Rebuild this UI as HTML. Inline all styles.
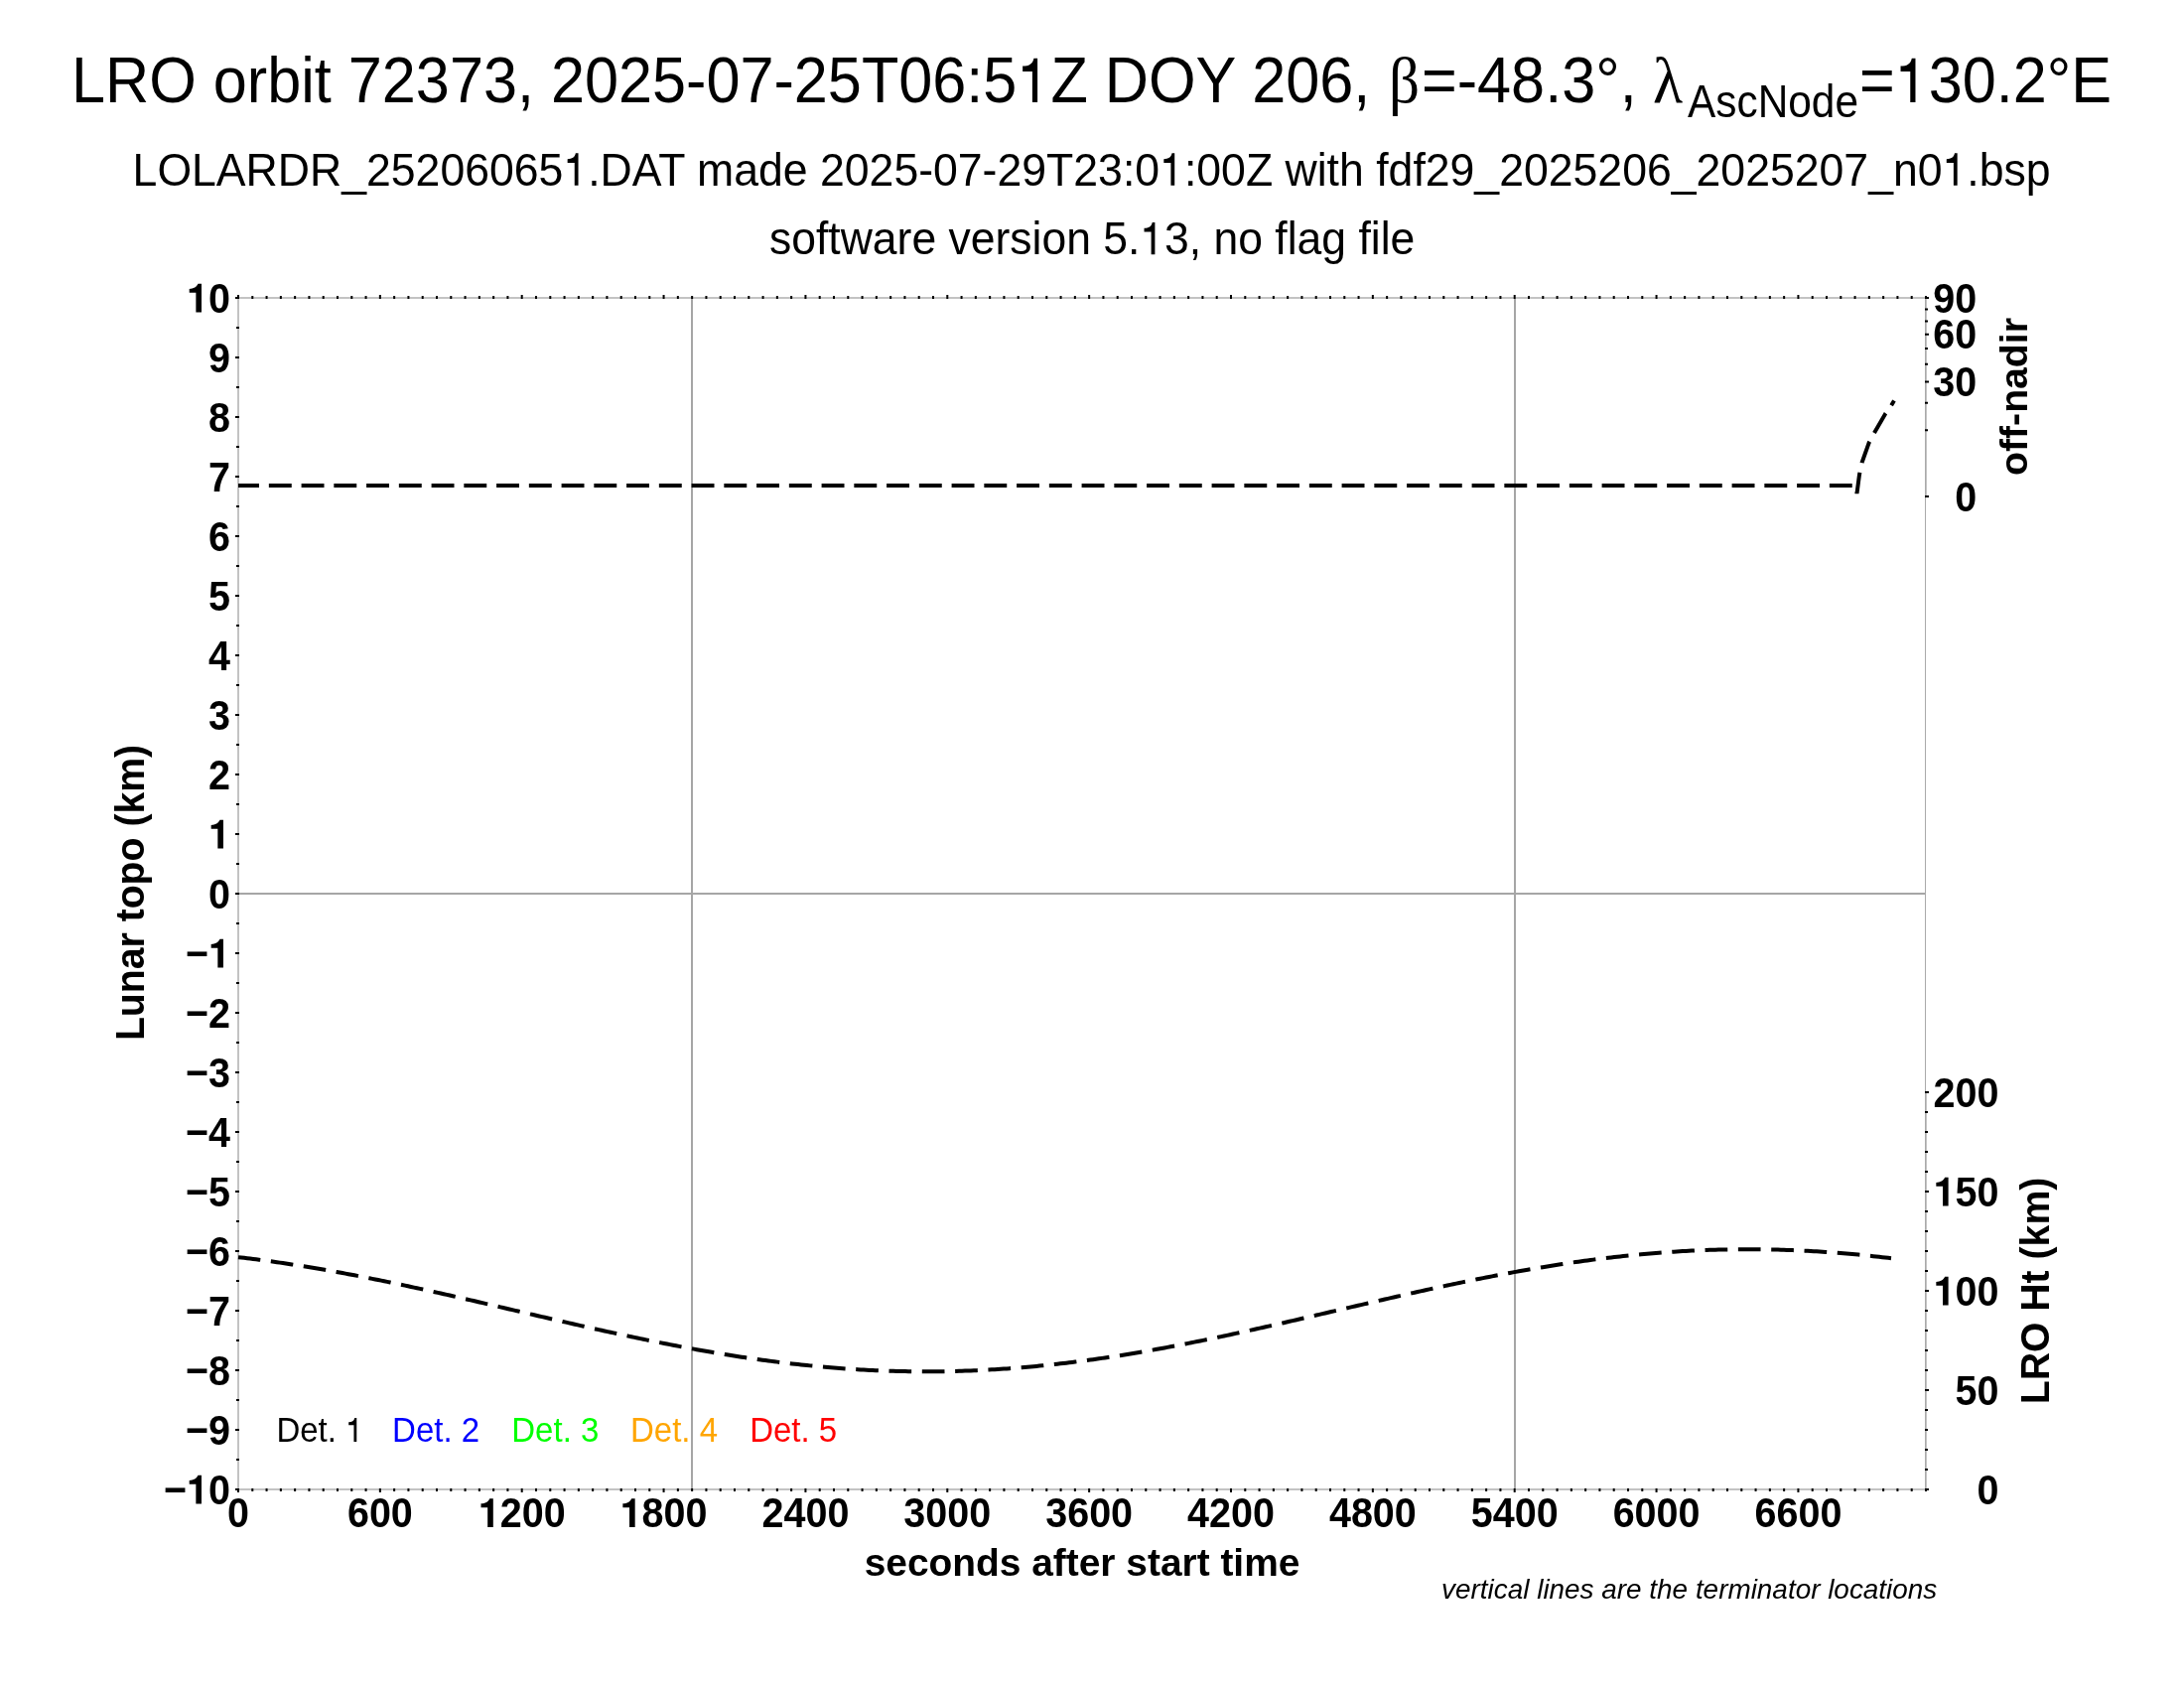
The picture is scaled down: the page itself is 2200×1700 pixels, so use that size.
<!DOCTYPE html><html><head><meta charset="utf-8"><style>html,body{margin:0;padding:0;background:#fff;}svg{display:block;will-change:transform}text{font-family:"Liberation Sans",sans-serif}</style></head><body>
<svg width="2200" height="1700" viewBox="0 0 2200 1700">
<rect x="0" y="0" width="2200" height="1700" fill="#fff"/>
<g transform="translate(0,103) scale(1,1.07) translate(0,-103)">
<text x="72" y="103" font-size="61.2" fill="#000">LRO orbit 72373, 2025-07-25T06:5 Z DOY 206,</text><path fill="#000" d="M1039.88,103.00H1045.09V61.53H1041.41C1040.19,66.97 1036.52,68.80 1030.15,68.97V73.94H1039.88Z"/>
<text x="1399" y="103" font-size="61" style="font-family:'Liberation Serif',serif">β</text>
<text x="1432" y="103" font-size="61.2" fill="#000">=-48.3°,</text>
<text x="1665" y="103" font-size="62" style="font-family:'Liberation Serif',serif">λ</text>
<text x="1700" y="116.83" font-size="42.4" fill="#000">AscNode</text>
<text x="1873" y="103" font-size="61.2" fill="#000">= 30.2°E</text><path fill="#000" d="M1924.27,103.00H1929.48V61.53H1925.80C1924.58,66.97 1920.91,68.80 1914.54,68.97V73.94H1924.27Z"/>
</g>
<g transform="translate(0,186.7) scale(1,1.05) translate(0,-186.7)"><text x="133.6" y="186.7" font-size="44.6" fill="#000">LOLARDR_25206065 .DAT made 2025-07-29T23:0 :00Z with fdf29_2025206_2025207_n0 .bsp</text><path fill="#000" d="M578.75,186.70H582.54V155.90H579.86C578.97,159.94 576.29,161.30 571.66,161.43V165.12H578.75ZM1179.42,186.70H1183.21V155.90H1180.54C1179.65,159.94 1176.97,161.30 1172.33,161.43V165.12H1179.42ZM1967.88,186.70H1971.67V155.90H1968.99C1968.10,159.94 1965.42,161.30 1960.79,161.43V165.12H1967.88Z"/></g>
<g transform="translate(0,256.2) scale(1,1.05) translate(0,-256.2)"><text x="775" y="256.2" font-size="44.5" fill="#000">software version 5. 3, no flag file</text><path fill="#000" d="M1159.62,256.20H1163.40V225.47H1160.73C1159.84,229.50 1157.17,230.86 1152.55,230.98V234.67H1159.62Z"/></g>
<g stroke="#a6a6a6" stroke-width="2" fill="none">
<line x1="241" y1="900" x2="1939" y2="900"/>
<line x1="697" y1="301" x2="697" y2="1499"/>
<line x1="1526" y1="301" x2="1526" y2="1499"/>
</g>
<path fill="none" stroke="#c3c3c3" stroke-width="2" d="M1939,300 H240 V1500 H1939"/>
<path fill="none" stroke="#c3c3c3" stroke-width="1" d="M1940.5,299 V500 M1940.5,1100 V1501"/>
<path fill="none" stroke="#aaaaaa" stroke-width="1" d="M1939.5,299 V1501"/>
<path fill="none" stroke="#000" stroke-width="2" d="M237,300h4 M238,330h3 M237,360h4 M238,390h3 M237,420h4 M238,450h3 M237,480h4 M238,510h3 M237,540h4 M238,570h3 M237,600h4 M238,630h3 M237,660h4 M238,690h3 M237,720h4 M238,750h3 M237,780h4 M238,810h3 M237,840h4 M238,870h3 M237,900h4 M238,930h3 M237,960h4 M238,990h3 M237,1020h4 M238,1050h3 M237,1080h4 M238,1110h3 M237,1140h4 M238,1170h3 M237,1200h4 M238,1230h3 M237,1260h4 M238,1290h3 M237,1320h4 M238,1350h3 M237,1380h4 M238,1410h3 M237,1440h4 M238,1470h3 M237,1500h4 M240.00,1499v4 M240.00,301v-4 M254.29,1499v3 M254.29,301v-3 M268.57,1499v3 M268.57,301v-3 M282.86,1499v3 M282.86,301v-3 M297.14,1499v3 M297.14,301v-3 M311.43,1499v3 M311.43,301v-3 M325.71,1499v3 M325.71,301v-3 M340.00,1499v3 M340.00,301v-3 M354.29,1499v3 M354.29,301v-3 M368.57,1499v3 M368.57,301v-3 M382.86,1499v4 M382.86,301v-4 M397.14,1499v3 M397.14,301v-3 M411.43,1499v3 M411.43,301v-3 M425.71,1499v3 M425.71,301v-3 M440.00,1499v3 M440.00,301v-3 M454.29,1499v3 M454.29,301v-3 M468.57,1499v3 M468.57,301v-3 M482.86,1499v3 M482.86,301v-3 M497.14,1499v3 M497.14,301v-3 M511.43,1499v3 M511.43,301v-3 M525.71,1499v4 M525.71,301v-4 M540.00,1499v3 M540.00,301v-3 M554.29,1499v3 M554.29,301v-3 M568.57,1499v3 M568.57,301v-3 M582.86,1499v3 M582.86,301v-3 M597.14,1499v3 M597.14,301v-3 M611.43,1499v3 M611.43,301v-3 M625.71,1499v3 M625.71,301v-3 M640.00,1499v3 M640.00,301v-3 M654.29,1499v3 M654.29,301v-3 M668.57,1499v4 M668.57,301v-4 M682.86,1499v3 M682.86,301v-3 M697.14,1499v3 M697.14,301v-3 M711.43,1499v3 M711.43,301v-3 M725.71,1499v3 M725.71,301v-3 M740.00,1499v3 M740.00,301v-3 M754.29,1499v3 M754.29,301v-3 M768.57,1499v3 M768.57,301v-3 M782.86,1499v3 M782.86,301v-3 M797.14,1499v3 M797.14,301v-3 M811.43,1499v4 M811.43,301v-4 M825.71,1499v3 M825.71,301v-3 M840.00,1499v3 M840.00,301v-3 M854.29,1499v3 M854.29,301v-3 M868.57,1499v3 M868.57,301v-3 M882.86,1499v3 M882.86,301v-3 M897.14,1499v3 M897.14,301v-3 M911.43,1499v3 M911.43,301v-3 M925.71,1499v3 M925.71,301v-3 M940.00,1499v3 M940.00,301v-3 M954.29,1499v4 M954.29,301v-4 M968.57,1499v3 M968.57,301v-3 M982.86,1499v3 M982.86,301v-3 M997.14,1499v3 M997.14,301v-3 M1011.43,1499v3 M1011.43,301v-3 M1025.71,1499v3 M1025.71,301v-3 M1040.00,1499v3 M1040.00,301v-3 M1054.29,1499v3 M1054.29,301v-3 M1068.57,1499v3 M1068.57,301v-3 M1082.86,1499v3 M1082.86,301v-3 M1097.14,1499v4 M1097.14,301v-4 M1111.43,1499v3 M1111.43,301v-3 M1125.71,1499v3 M1125.71,301v-3 M1140.00,1499v3 M1140.00,301v-3 M1154.29,1499v3 M1154.29,301v-3 M1168.57,1499v3 M1168.57,301v-3 M1182.86,1499v3 M1182.86,301v-3 M1197.14,1499v3 M1197.14,301v-3 M1211.43,1499v3 M1211.43,301v-3 M1225.71,1499v3 M1225.71,301v-3 M1240.00,1499v4 M1240.00,301v-4 M1254.29,1499v3 M1254.29,301v-3 M1268.57,1499v3 M1268.57,301v-3 M1282.86,1499v3 M1282.86,301v-3 M1297.14,1499v3 M1297.14,301v-3 M1311.43,1499v3 M1311.43,301v-3 M1325.71,1499v3 M1325.71,301v-3 M1340.00,1499v3 M1340.00,301v-3 M1354.29,1499v3 M1354.29,301v-3 M1368.57,1499v3 M1368.57,301v-3 M1382.86,1499v4 M1382.86,301v-4 M1397.14,1499v3 M1397.14,301v-3 M1411.43,1499v3 M1411.43,301v-3 M1425.71,1499v3 M1425.71,301v-3 M1440.00,1499v3 M1440.00,301v-3 M1454.29,1499v3 M1454.29,301v-3 M1468.57,1499v3 M1468.57,301v-3 M1482.86,1499v3 M1482.86,301v-3 M1497.14,1499v3 M1497.14,301v-3 M1511.43,1499v3 M1511.43,301v-3 M1525.71,1499v4 M1525.71,301v-4 M1540.00,1499v3 M1540.00,301v-3 M1554.29,1499v3 M1554.29,301v-3 M1568.57,1499v3 M1568.57,301v-3 M1582.86,1499v3 M1582.86,301v-3 M1597.14,1499v3 M1597.14,301v-3 M1611.43,1499v3 M1611.43,301v-3 M1625.71,1499v3 M1625.71,301v-3 M1640.00,1499v3 M1640.00,301v-3 M1654.29,1499v3 M1654.29,301v-3 M1668.57,1499v4 M1668.57,301v-4 M1682.86,1499v3 M1682.86,301v-3 M1697.14,1499v3 M1697.14,301v-3 M1711.43,1499v3 M1711.43,301v-3 M1725.71,1499v3 M1725.71,301v-3 M1740.00,1499v3 M1740.00,301v-3 M1754.29,1499v3 M1754.29,301v-3 M1768.57,1499v3 M1768.57,301v-3 M1782.86,1499v3 M1782.86,301v-3 M1797.14,1499v3 M1797.14,301v-3 M1811.43,1499v4 M1811.43,301v-4 M1825.71,1499v3 M1825.71,301v-3 M1840.00,1499v3 M1840.00,301v-3 M1854.29,1499v3 M1854.29,301v-3 M1868.57,1499v3 M1868.57,301v-3 M1882.86,1499v3 M1882.86,301v-3 M1897.14,1499v3 M1897.14,301v-3 M1911.43,1499v3 M1911.43,301v-3 M1925.71,1499v3 M1925.71,301v-3 M1940.00,1499v3 M1940.00,301v-3 M1939,500.00h4 M1939,433.33h3 M1939,405.72h3 M1939,384.53h4 M1939,366.67h3 M1939,350.93h3 M1939,336.70h4 M1939,323.62h3 M1939,311.44h3 M1939,300.00h4 M1939,1500h4 M1939,1480h3 M1939,1460h3 M1939,1440h3 M1939,1420h3 M1939,1400h4 M1939,1380h3 M1939,1360h3 M1939,1340h3 M1939,1320h3 M1939,1300h4 M1939,1280h3 M1939,1260h3 M1939,1240h3 M1939,1220h3 M1939,1200h4 M1939,1180h3 M1939,1160h3 M1939,1140h3 M1939,1120h3 M1939,1100h4"/>
<g transform="translate(231.90,314.60) scale(1,1.07)"><text x="0" y="0" text-anchor="end" font-size="39.5" font-weight="bold" fill="#000"> 0</text><path fill="#000" d="M-34.52,0.00H-28.91V-26.87H-32.39C-33.57,-24.11 -37.01,-22.19 -41.20,-22.08V-18.57H-34.52Z"/></g>
<g transform="translate(231.90,374.60) scale(1,1.07)"><text x="0" y="0" text-anchor="end" font-size="39.5" font-weight="bold" fill="#000">9</text></g>
<g transform="translate(231.90,434.60) scale(1,1.07)"><text x="0" y="0" text-anchor="end" font-size="39.5" font-weight="bold" fill="#000">8</text></g>
<g transform="translate(231.90,494.60) scale(1,1.07)"><text x="0" y="0" text-anchor="end" font-size="39.5" font-weight="bold" fill="#000">7</text></g>
<g transform="translate(231.90,554.60) scale(1,1.07)"><text x="0" y="0" text-anchor="end" font-size="39.5" font-weight="bold" fill="#000">6</text></g>
<g transform="translate(231.90,614.60) scale(1,1.07)"><text x="0" y="0" text-anchor="end" font-size="39.5" font-weight="bold" fill="#000">5</text></g>
<g transform="translate(231.90,674.60) scale(1,1.07)"><text x="0" y="0" text-anchor="end" font-size="39.5" font-weight="bold" fill="#000">4</text></g>
<g transform="translate(231.90,734.60) scale(1,1.07)"><text x="0" y="0" text-anchor="end" font-size="39.5" font-weight="bold" fill="#000">3</text></g>
<g transform="translate(231.90,794.60) scale(1,1.07)"><text x="0" y="0" text-anchor="end" font-size="39.5" font-weight="bold" fill="#000">2</text></g>
<g transform="translate(231.90,854.60) scale(1,1.07)"><text x="0" y="0" text-anchor="end" font-size="39.5" font-weight="bold" fill="#000"> </text><path fill="#000" d="M-12.57,0.00H-6.96V-26.87H-10.43C-11.62,-24.11 -15.06,-22.19 -19.24,-22.08V-18.57H-12.57Z"/></g>
<g transform="translate(231.90,914.60) scale(1,1.07)"><text x="0" y="0" text-anchor="end" font-size="39.5" font-weight="bold" fill="#000">0</text></g>
<g transform="translate(231.90,974.60) scale(1,1.07)"><text x="0" y="0" text-anchor="end" font-size="39.5" font-weight="bold" fill="#000">− </text><path fill="#000" d="M-12.57,0.00H-6.96V-26.87H-10.43C-11.62,-24.11 -15.06,-22.19 -19.24,-22.08V-18.57H-12.57Z"/></g>
<g transform="translate(231.90,1034.60) scale(1,1.07)"><text x="0" y="0" text-anchor="end" font-size="39.5" font-weight="bold" fill="#000">−2</text></g>
<g transform="translate(231.90,1094.60) scale(1,1.07)"><text x="0" y="0" text-anchor="end" font-size="39.5" font-weight="bold" fill="#000">−3</text></g>
<g transform="translate(231.90,1154.60) scale(1,1.07)"><text x="0" y="0" text-anchor="end" font-size="39.5" font-weight="bold" fill="#000">−4</text></g>
<g transform="translate(231.90,1214.60) scale(1,1.07)"><text x="0" y="0" text-anchor="end" font-size="39.5" font-weight="bold" fill="#000">−5</text></g>
<g transform="translate(231.90,1274.60) scale(1,1.07)"><text x="0" y="0" text-anchor="end" font-size="39.5" font-weight="bold" fill="#000">−6</text></g>
<g transform="translate(231.90,1334.60) scale(1,1.07)"><text x="0" y="0" text-anchor="end" font-size="39.5" font-weight="bold" fill="#000">−7</text></g>
<g transform="translate(231.90,1394.60) scale(1,1.07)"><text x="0" y="0" text-anchor="end" font-size="39.5" font-weight="bold" fill="#000">−8</text></g>
<g transform="translate(231.90,1454.60) scale(1,1.07)"><text x="0" y="0" text-anchor="end" font-size="39.5" font-weight="bold" fill="#000">−9</text></g>
<g transform="translate(231.90,1514.60) scale(1,1.07)"><text x="0" y="0" text-anchor="end" font-size="39.5" font-weight="bold" fill="#000">− 0</text><path fill="#000" d="M-34.54,0.00H-28.93V-26.87H-32.40C-33.59,-24.11 -37.02,-22.19 -41.21,-22.08V-18.57H-34.54Z"/></g>
<g transform="translate(240.00,1538.00) scale(1,1.07)"><text x="0" y="0" text-anchor="middle" font-size="39.5" font-weight="bold" fill="#000">0</text></g>
<g transform="translate(382.86,1538.00) scale(1,1.07)"><text x="0" y="0" text-anchor="middle" font-size="39.5" font-weight="bold" fill="#000">600</text></g>
<g transform="translate(525.71,1538.00) scale(1,1.07)"><text x="0" y="0" text-anchor="middle" font-size="39.5" font-weight="bold" fill="#000"> 200</text><path fill="#000" d="M-34.52,0.00H-28.91V-26.87H-32.39C-33.57,-24.11 -37.01,-22.19 -41.20,-22.08V-18.57H-34.52Z"/></g>
<g transform="translate(668.57,1538.00) scale(1,1.07)"><text x="0" y="0" text-anchor="middle" font-size="39.5" font-weight="bold" fill="#000"> 800</text><path fill="#000" d="M-34.52,0.00H-28.91V-26.87H-32.39C-33.57,-24.11 -37.01,-22.19 -41.20,-22.08V-18.57H-34.52Z"/></g>
<g transform="translate(811.43,1538.00) scale(1,1.07)"><text x="0" y="0" text-anchor="middle" font-size="39.5" font-weight="bold" fill="#000">2400</text></g>
<g transform="translate(954.29,1538.00) scale(1,1.07)"><text x="0" y="0" text-anchor="middle" font-size="39.5" font-weight="bold" fill="#000">3000</text></g>
<g transform="translate(1097.14,1538.00) scale(1,1.07)"><text x="0" y="0" text-anchor="middle" font-size="39.5" font-weight="bold" fill="#000">3600</text></g>
<g transform="translate(1240.00,1538.00) scale(1,1.07)"><text x="0" y="0" text-anchor="middle" font-size="39.5" font-weight="bold" fill="#000">4200</text></g>
<g transform="translate(1382.86,1538.00) scale(1,1.07)"><text x="0" y="0" text-anchor="middle" font-size="39.5" font-weight="bold" fill="#000">4800</text></g>
<g transform="translate(1525.71,1538.00) scale(1,1.07)"><text x="0" y="0" text-anchor="middle" font-size="39.5" font-weight="bold" fill="#000">5400</text></g>
<g transform="translate(1668.57,1538.00) scale(1,1.07)"><text x="0" y="0" text-anchor="middle" font-size="39.5" font-weight="bold" fill="#000">6000</text></g>
<g transform="translate(1811.43,1538.00) scale(1,1.07)"><text x="0" y="0" text-anchor="middle" font-size="39.5" font-weight="bold" fill="#000">6600</text></g>
<g transform="translate(1991.10,314.60) scale(1,1.07)"><text x="0" y="0" text-anchor="end" font-size="39.5" font-weight="bold" fill="#000">90</text></g>
<g transform="translate(1991.10,351.30) scale(1,1.07)"><text x="0" y="0" text-anchor="end" font-size="39.5" font-weight="bold" fill="#000">60</text></g>
<g transform="translate(1991.10,399.13) scale(1,1.07)"><text x="0" y="0" text-anchor="end" font-size="39.5" font-weight="bold" fill="#000">30</text></g>
<g transform="translate(1991.10,514.60) scale(1,1.07)"><text x="0" y="0" text-anchor="end" font-size="39.5" font-weight="bold" fill="#000">0</text></g>
<g transform="translate(2013.50,1114.60) scale(1,1.07)"><text x="0" y="0" text-anchor="end" font-size="39.5" font-weight="bold" fill="#000">200</text></g>
<g transform="translate(2013.50,1214.60) scale(1,1.07)"><text x="0" y="0" text-anchor="end" font-size="39.5" font-weight="bold" fill="#000"> 50</text><path fill="#000" d="M-56.49,0.00H-50.88V-26.87H-54.36C-55.54,-24.11 -58.98,-22.19 -63.16,-22.08V-18.57H-56.49Z"/></g>
<g transform="translate(2013.50,1314.60) scale(1,1.07)"><text x="0" y="0" text-anchor="end" font-size="39.5" font-weight="bold" fill="#000"> 00</text><path fill="#000" d="M-56.49,0.00H-50.88V-26.87H-54.36C-55.54,-24.11 -58.98,-22.19 -63.16,-22.08V-18.57H-56.49Z"/></g>
<g transform="translate(2013.50,1414.60) scale(1,1.07)"><text x="0" y="0" text-anchor="end" font-size="39.5" font-weight="bold" fill="#000">50</text></g>
<g transform="translate(2013.50,1514.60) scale(1,1.07)"><text x="0" y="0" text-anchor="end" font-size="39.5" font-weight="bold" fill="#000">0</text></g>
<g fill="#000" font-weight="bold">
<text transform="translate(1090,1586.8)" font-size="38.9" text-anchor="middle">seconds after start time</text>
<text transform="translate(144.5,899) rotate(-90) scale(1,1.03)" font-size="39.2" text-anchor="middle">Lunar topo (km)</text>
<text transform="translate(2042.4,399.5) rotate(-90)" font-size="39.2" text-anchor="middle">off-nadir</text>
<text transform="translate(2064.4,1300) rotate(-90) scale(1,1.03)" font-size="39.2" text-anchor="middle">LRO Ht (km)</text>
</g>
<text x="1452.1" y="1610.2" font-size="27.9" font-style="italic" fill="#000">vertical lines are the terminator locations</text>
<g transform="translate(0,1452) scale(1,1.05) translate(0,-1452)"><text x="278.4" y="1452" font-size="33" fill="#000000">Det.  </text><path fill="#000000" d="M356.46,1452.00H359.26V1429.21H357.28C356.62,1432.20 354.64,1433.21 351.21,1433.30V1436.03H356.46Z"/></g>
<g transform="translate(0,1452) scale(1,1.05) translate(0,-1452)"><text x="395.1" y="1452" font-size="33" fill="#0000ff">Det. 2</text></g>
<g transform="translate(0,1452) scale(1,1.05) translate(0,-1452)"><text x="515.3" y="1452" font-size="33" fill="#00ff00">Det. 3</text></g>
<g transform="translate(0,1452) scale(1,1.05) translate(0,-1452)"><text x="635.0" y="1452" font-size="33" fill="#ffa500">Det. 4</text></g>
<g transform="translate(0,1452) scale(1,1.05) translate(0,-1452)"><text x="755.2" y="1452" font-size="33" fill="#ff0000">Det. 5</text></g>
<path fill="none" stroke="#000" stroke-width="4" stroke-dasharray="22.7 10.63" stroke-dashoffset="0.26" d="M240.0,1266.14 L243.0,1266.49 L246.0,1266.84 L249.0,1267.20 L252.0,1267.57 L255.0,1267.95 L258.0,1268.33 L261.0,1268.72 L264.0,1269.11 L267.0,1269.51 L270.0,1269.92 L273.0,1270.33 L276.0,1270.76 L279.0,1271.18 L282.0,1271.62 L285.0,1272.06 L288.0,1272.50 L291.0,1272.95 L294.0,1273.41 L297.0,1273.88 L300.0,1274.35 L303.0,1274.82 L306.0,1275.30 L309.0,1275.79 L312.0,1276.28 L315.0,1276.78 L318.0,1277.29 L321.0,1277.80 L324.0,1278.31 L327.0,1278.83 L330.0,1279.36 L333.0,1279.89 L336.0,1280.43 L339.0,1280.97 L342.0,1281.51 L345.0,1282.07 L348.0,1282.62 L351.0,1283.18 L354.0,1283.75 L357.0,1284.32 L360.0,1284.90 L363.0,1285.48 L366.0,1286.06 L369.0,1286.65 L372.0,1287.24 L375.0,1287.84 L378.0,1288.44 L381.0,1289.04 L384.0,1289.65 L387.0,1290.27 L390.0,1290.88 L393.0,1291.50 L396.0,1292.13 L399.0,1292.76 L402.0,1293.39 L405.0,1294.02 L408.0,1294.66 L411.0,1295.30 L414.0,1295.95 L417.0,1296.59 L420.0,1297.24 L423.0,1297.90 L426.0,1298.55 L429.0,1299.21 L432.0,1299.87 L435.0,1300.54 L438.0,1301.21 L441.0,1301.87 L444.0,1302.55 L447.0,1303.22 L450.0,1303.90 L453.0,1304.57 L456.0,1305.25 L459.0,1305.94 L462.0,1306.62 L465.0,1307.30 L468.0,1307.99 L471.0,1308.68 L474.0,1309.37 L477.0,1310.06 L480.0,1310.75 L483.0,1311.45 L486.0,1312.14 L489.0,1312.84 L492.0,1313.53 L495.0,1314.23 L498.0,1314.93 L501.0,1315.63 L504.0,1316.33 L507.0,1317.03 L510.0,1317.73 L513.0,1318.43 L516.0,1319.13 L519.0,1319.83 L522.0,1320.53 L525.0,1321.23 L528.0,1321.93 L531.0,1322.63 L534.0,1323.33 L537.0,1324.03 L540.0,1324.73 L543.0,1325.43 L546.0,1326.12 L549.0,1326.82 L552.0,1327.51 L555.0,1328.21 L558.0,1328.90 L561.0,1329.59 L564.0,1330.29 L567.0,1330.98 L570.0,1331.66 L573.0,1332.35 L576.0,1333.03 L579.0,1333.72 L582.0,1334.40 L585.0,1335.08 L588.0,1335.76 L591.0,1336.43 L594.0,1337.11 L597.0,1337.78 L600.0,1338.44 L603.0,1339.11 L606.0,1339.77 L609.0,1340.44 L612.0,1341.09 L615.0,1341.75 L618.0,1342.40 L621.0,1343.05 L624.0,1343.70 L627.0,1344.34 L630.0,1344.98 L633.0,1345.62 L636.0,1346.26 L639.0,1346.89 L642.0,1347.51 L645.0,1348.14 L648.0,1348.76 L651.0,1349.37 L654.0,1349.98 L657.0,1350.59 L660.0,1351.20 L663.0,1351.80 L666.0,1352.39 L669.0,1352.99 L672.0,1353.57 L675.0,1354.16 L678.0,1354.73 L681.0,1355.31 L684.0,1355.88 L687.0,1356.44 L690.0,1357.00 L693.0,1357.56 L696.0,1358.11 L699.0,1358.65 L702.0,1359.19 L705.0,1359.73 L708.0,1360.26 L711.0,1360.78 L714.0,1361.30 L717.0,1361.82 L720.0,1362.33 L723.0,1362.83 L726.0,1363.33 L729.0,1363.82 L732.0,1364.31 L735.0,1364.79 L738.0,1365.26 L741.0,1365.73 L744.0,1366.19 L747.0,1366.65 L750.0,1367.10 L753.0,1367.54 L756.0,1367.98 L759.0,1368.41 L762.0,1368.84 L765.0,1369.26 L768.0,1369.67 L771.0,1370.08 L774.0,1370.48 L777.0,1370.87 L780.0,1371.26 L783.0,1371.64 L786.0,1372.01 L789.0,1372.38 L792.0,1372.74 L795.0,1373.09 L798.0,1373.44 L801.0,1373.78 L804.0,1374.11 L807.0,1374.44 L810.0,1374.75 L813.0,1375.06 L816.0,1375.37 L819.0,1375.66 L822.0,1375.95 L825.0,1376.24 L828.0,1376.51 L831.0,1376.78 L834.0,1377.04 L837.0,1377.29 L840.0,1377.53 L843.0,1377.77 L846.0,1378.00 L849.0,1378.22 L852.0,1378.44 L855.0,1378.65 L858.0,1378.85 L861.0,1379.04 L864.0,1379.22 L867.0,1379.40 L870.0,1379.57 L873.0,1379.73 L876.0,1379.88 L879.0,1380.03 L882.0,1380.17 L885.0,1380.30 L888.0,1380.42 L891.0,1380.53 L894.0,1380.64 L897.0,1380.74 L900.0,1380.83 L903.0,1380.91 L906.0,1380.98 L909.0,1381.05 L912.0,1381.11 L915.0,1381.16 L918.0,1381.20 L921.0,1381.24 L924.0,1381.27 L927.0,1381.29 L930.0,1381.30 L933.0,1381.30 L936.0,1381.29 L939.0,1381.28 L942.0,1381.26 L945.0,1381.23 L948.0,1381.20 L951.0,1381.15 L954.0,1381.10 L957.0,1381.04 L960.0,1380.97 L963.0,1380.89 L966.0,1380.81 L969.0,1380.72 L972.0,1380.62 L975.0,1380.51 L978.0,1380.39 L981.0,1380.27 L984.0,1380.14 L987.0,1380.00 L990.0,1379.85 L993.0,1379.69 L996.0,1379.53 L999.0,1379.36 L1002.0,1379.18 L1005.0,1379.00 L1008.0,1378.80 L1011.0,1378.60 L1014.0,1378.39 L1017.0,1378.18 L1020.0,1377.95 L1023.0,1377.72 L1026.0,1377.48 L1029.0,1377.23 L1032.0,1376.98 L1035.0,1376.72 L1038.0,1376.45 L1041.0,1376.17 L1044.0,1375.89 L1047.0,1375.60 L1050.0,1375.30 L1053.0,1374.99 L1056.0,1374.68 L1059.0,1374.36 L1062.0,1374.04 L1065.0,1373.70 L1068.0,1373.36 L1071.0,1373.01 L1074.0,1372.66 L1077.0,1372.30 L1080.0,1371.93 L1083.0,1371.56 L1086.0,1371.17 L1089.0,1370.79 L1092.0,1370.39 L1095.0,1369.99 L1098.0,1369.58 L1101.0,1369.17 L1104.0,1368.75 L1107.0,1368.32 L1110.0,1367.88 L1113.0,1367.45 L1116.0,1367.00 L1119.0,1366.55 L1122.0,1366.09 L1125.0,1365.63 L1128.0,1365.16 L1131.0,1364.68 L1134.0,1364.20 L1137.0,1363.71 L1140.0,1363.22 L1143.0,1362.72 L1146.0,1362.21 L1149.0,1361.70 L1152.0,1361.19 L1155.0,1360.67 L1158.0,1360.14 L1161.0,1359.61 L1164.0,1359.07 L1167.0,1358.53 L1170.0,1357.99 L1173.0,1357.43 L1176.0,1356.88 L1179.0,1356.32 L1182.0,1355.75 L1185.0,1355.18 L1188.0,1354.61 L1191.0,1354.03 L1194.0,1353.44 L1197.0,1352.85 L1200.0,1352.26 L1203.0,1351.66 L1206.0,1351.06 L1209.0,1350.46 L1212.0,1349.85 L1215.0,1349.23 L1218.0,1348.62 L1221.0,1348.00 L1224.0,1347.37 L1227.0,1346.75 L1230.0,1346.11 L1233.0,1345.48 L1236.0,1344.84 L1239.0,1344.20 L1242.0,1343.56 L1245.0,1342.91 L1248.0,1342.26 L1251.0,1341.60 L1254.0,1340.95 L1257.0,1340.29 L1260.0,1339.63 L1263.0,1338.96 L1266.0,1338.30 L1269.0,1337.63 L1272.0,1336.95 L1275.0,1336.28 L1278.0,1335.60 L1281.0,1334.93 L1284.0,1334.25 L1287.0,1333.56 L1290.0,1332.88 L1293.0,1332.20 L1296.0,1331.51 L1299.0,1330.82 L1302.0,1330.13 L1305.0,1329.44 L1308.0,1328.75 L1311.0,1328.05 L1314.0,1327.36 L1317.0,1326.66 L1320.0,1325.97 L1323.0,1325.27 L1326.0,1324.57 L1329.0,1323.87 L1332.0,1323.17 L1335.0,1322.47 L1338.0,1321.77 L1341.0,1321.07 L1344.0,1320.37 L1347.0,1319.67 L1350.0,1318.97 L1353.0,1318.27 L1356.0,1317.57 L1359.0,1316.87 L1362.0,1316.17 L1365.0,1315.47 L1368.0,1314.77 L1371.0,1314.08 L1374.0,1313.38 L1377.0,1312.68 L1380.0,1311.99 L1383.0,1311.29 L1386.0,1310.60 L1389.0,1309.91 L1392.0,1309.22 L1395.0,1308.53 L1398.0,1307.84 L1401.0,1307.15 L1404.0,1306.47 L1407.0,1305.78 L1410.0,1305.10 L1413.0,1304.42 L1416.0,1303.74 L1419.0,1303.07 L1422.0,1302.40 L1425.0,1301.72 L1428.0,1301.06 L1431.0,1300.39 L1434.0,1299.73 L1437.0,1299.06 L1440.0,1298.41 L1443.0,1297.75 L1446.0,1297.10 L1449.0,1296.45 L1452.0,1295.80 L1455.0,1295.16 L1458.0,1294.52 L1461.0,1293.88 L1464.0,1293.25 L1467.0,1292.61 L1470.0,1291.99 L1473.0,1291.36 L1476.0,1290.74 L1479.0,1290.13 L1482.0,1289.52 L1485.0,1288.91 L1488.0,1288.30 L1491.0,1287.70 L1494.0,1287.11 L1497.0,1286.52 L1500.0,1285.93 L1503.0,1285.34 L1506.0,1284.77 L1509.0,1284.19 L1512.0,1283.62 L1515.0,1283.06 L1518.0,1282.50 L1521.0,1281.94 L1524.0,1281.39 L1527.0,1280.85 L1530.0,1280.31 L1533.0,1279.77 L1536.0,1279.24 L1539.0,1278.72 L1542.0,1278.20 L1545.0,1277.68 L1548.0,1277.17 L1551.0,1276.67 L1554.0,1276.17 L1557.0,1275.68 L1560.0,1275.19 L1563.0,1274.71 L1566.0,1274.24 L1569.0,1273.77 L1572.0,1273.31 L1575.0,1272.85 L1578.0,1272.40 L1581.0,1271.96 L1584.0,1271.52 L1587.0,1271.09 L1590.0,1270.66 L1593.0,1270.24 L1596.0,1269.83 L1599.0,1269.42 L1602.0,1269.02 L1605.0,1268.63 L1608.0,1268.24 L1611.0,1267.86 L1614.0,1267.49 L1617.0,1267.12 L1620.0,1266.76 L1623.0,1266.41 L1626.0,1266.06 L1629.0,1265.72 L1632.0,1265.39 L1635.0,1265.07 L1638.0,1264.75 L1641.0,1264.44 L1644.0,1264.13 L1647.0,1263.84 L1650.0,1263.55 L1653.0,1263.27 L1656.0,1262.99 L1659.0,1262.72 L1662.0,1262.46 L1665.0,1262.21 L1668.0,1261.97 L1671.0,1261.73 L1674.0,1261.50 L1677.0,1261.28 L1680.0,1261.06 L1683.0,1260.85 L1686.0,1260.65 L1689.0,1260.46 L1692.0,1260.28 L1695.0,1260.10 L1698.0,1259.93 L1701.0,1259.77 L1704.0,1259.62 L1707.0,1259.47 L1710.0,1259.33 L1713.0,1259.20 L1716.0,1259.08 L1719.0,1258.97 L1722.0,1258.86 L1725.0,1258.76 L1728.0,1258.67 L1731.0,1258.59 L1734.0,1258.52 L1737.0,1258.45 L1740.0,1258.39 L1743.0,1258.34 L1746.0,1258.30 L1749.0,1258.26 L1752.0,1258.23 L1755.0,1258.22 L1758.0,1258.20 L1761.0,1258.20 L1764.0,1258.21 L1767.0,1258.22 L1770.0,1258.24 L1773.0,1258.27 L1776.0,1258.31 L1779.0,1258.35 L1782.0,1258.40 L1785.0,1258.46 L1788.0,1258.53 L1791.0,1258.61 L1794.0,1258.69 L1797.0,1258.79 L1800.0,1258.89 L1803.0,1258.99 L1806.0,1259.11 L1809.0,1259.23 L1812.0,1259.37 L1815.0,1259.50 L1818.0,1259.65 L1821.0,1259.81 L1824.0,1259.97 L1827.0,1260.14 L1830.0,1260.32 L1833.0,1260.50 L1836.0,1260.70 L1839.0,1260.90 L1842.0,1261.11 L1845.0,1261.33 L1848.0,1261.55 L1851.0,1261.78 L1854.0,1262.02 L1857.0,1262.27 L1860.0,1262.52 L1863.0,1262.78 L1866.0,1263.05 L1869.0,1263.33 L1872.0,1263.61 L1875.0,1263.90 L1878.0,1264.20 L1881.0,1264.51 L1884.0,1264.82 L1887.0,1265.14 L1890.0,1265.46 L1893.0,1265.80 L1896.0,1266.14 L1899.0,1266.49 L1902.0,1266.84 L1905.0,1267.20"/>
<path fill="none" stroke="#000" stroke-width="4" stroke-dasharray="22.9 9.85" stroke-dashoffset="1.9" d="M240,489 H1869 L1870.5,497 L1873,478 L1875.5,466 L1882.6,446 L1888,436 L1899,417 L1905,408.5 L1908,403.5"/>
</svg></body></html>
